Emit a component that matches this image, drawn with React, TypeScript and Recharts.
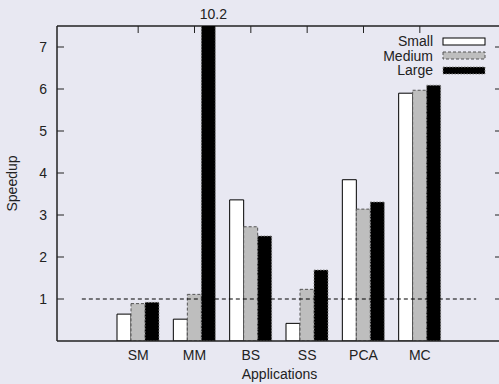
import * as Recharts from 'recharts'
import { BarChart, Bar, XAxis, YAxis, ReferenceLine, LabelList } from 'recharts'

const apps = ['SM', 'MM', 'BS', 'SS', 'PCA', 'MC']
const small = [0.64, 0.52, 3.36, 0.42, 3.84, 5.9]
const medium = [0.89, 1.11, 2.72, 1.23, 3.14, 5.97]
const large = [0.92, 10.2, 2.5, 1.69, 3.31, 6.09]
const yTicks = [1, 2, 3, 4, 5, 6, 7]
const yMax = 7.5
const baseline = 1

const data = apps.map((app, i) => ({ app, small: small[i], medium: medium[i], large: large[i] }))

const series = [
  { key: 'small', name: 'Small', fill: '#ffffff', stroke: '#000', dash: undefined },
  { key: 'medium', name: 'Medium', fill: '#bebebe', stroke: '#555', dash: '3 2' },
  { key: 'large', name: 'Large', fill: '#000000', stroke: '#888', dash: '1.5 1.5' },
]

const ink = '#222'
const font = 'Liberation Sans, Arial, sans-serif'
const xPad = { left: 53, right: 54 }

// gnuplot-style ticks: short marks pointing into the plot
function LeftTick({ x, y, payload }: any) {
  return (
    <g>
      <line x1={x} x2={x + 7} y1={y} y2={y} stroke={ink} />
      <text x={x - 10} y={y} dy={5} textAnchor="end" fontSize={14} fill={ink} fontFamily={font}>
        {payload.value}
      </text>
    </g>
  )
}

function RightTick({ x, y }: any) {
  return <line x1={x - 7} x2={x} y1={y} y2={y} stroke={ink} />
}

// top border of the frame with mirrored category ticks
function TopFrame() {
  const usePlotArea = (Recharts as any).usePlotArea
  const area = usePlotArea ? usePlotArea() : null
  if (!area) return null
  const band = (area.width - xPad.left - xPad.right) / apps.length
  return (
    <g>
      <line x1={area.x} x2={area.x + area.width} y1={area.y} y2={area.y} stroke={ink} strokeWidth={1.5} />
      {apps.map((a, i) => {
        const cx = area.x + xPad.left + band * (i + 0.5)
        return <line key={a} x1={cx} x2={cx} y1={area.y} y2={area.y + 7} stroke={ink} />
      })}
    </g>
  )
}

// dashed y=1 line runs one category step past the first and last app
function BaselineShape(p: any) {
  const step = (p.x2 - p.x1) / (apps.length - 1)
  return <line x1={p.x1 - step} x2={p.x2 + step} y1={p.y1} y2={p.y2} stroke="#000" strokeWidth={1.2} strokeDasharray="4 3" />
}

// value printed above the frame when a bar is cut off
function OverflowLabel(p: any) {
  const v = Number(p.value)
  if (!(v > yMax)) return null
  const box = p.viewBox ?? p
  const bottom = box.y + box.height
  const top = bottom - (box.height * yMax) / v
  return (
    <text x={box.x + box.width / 2 + 5} y={top - 7} textAnchor="middle" fontSize={14} fill={ink} fontFamily={font}>
      {v}
    </text>
  )
}

function KeyBox() {
  return (
    <div style={{ position: 'absolute', left: 340, top: 34, width: 146, fontFamily: font, fontSize: 14, color: ink }}>
      {series.map((s) => (
        <div key={s.key} style={{ display: 'flex', justifyContent: 'flex-end', alignItems: 'center', height: 14.5 }}>
          <span style={{ lineHeight: '14px' }}>{s.name}</span>
          <svg width={44} height={9} style={{ marginLeft: 9 }}>
            <rect x={1} y={1} width={42} height={7} fill={s.fill} stroke={s.stroke} strokeDasharray={s.dash} />
          </svg>
        </div>
      ))}
    </div>
  )
}

export default function App() {
  return (
    <div style={{ position: 'absolute', left: 0, top: 0, width: 499, height: 384, overflow: 'hidden', background: '#e8e8f2' }}>
      <BarChart
        width={504}
        height={384}
        data={data}
        margin={{ top: 26, right: 1, bottom: 0, left: 0 }}
        barCategoryGap={7}
        barGap={0}
      >
        <XAxis
          dataKey="app"
          padding={xPad}
          height={43}
          tickLine={false}
          tickSize={0}
          tickMargin={9}
          axisLine={{ stroke: ink, strokeWidth: 1.5 }}
          tick={{ fontSize: 14, fill: ink, fontFamily: font }}
          label={{ value: 'Applications', position: 'insideBottom', offset: 5, fontSize: 14, fill: ink, fontFamily: font }}
        />
        <YAxis
          type="number"
          domain={[0, yMax]}
          ticks={yTicks}
          allowDataOverflow
          width={57}
          tickSize={0}
          tickMargin={0}
          tickLine={false}
          axisLine={{ stroke: ink, strokeWidth: 1.5 }}
          tick={<LeftTick />}
          label={{
            value: 'Speedup',
            angle: -90,
            position: 'insideLeft',
            offset: 12,
            fontSize: 14,
            fill: ink,
            fontFamily: font,
            style: { textAnchor: 'middle' },
          }}
        />
        <YAxis
          yAxisId="r"
          orientation="right"
          type="number"
          domain={[0, yMax]}
          allowDataOverflow
          ticks={yTicks}
          width={1}
          tickSize={0}
          tickMargin={0}
          tickLine={false}
          axisLine={{ stroke: ink, strokeWidth: 1.5 }}
          tick={<RightTick />}
        />
        {series.map((s) => (
          <Bar
            key={s.key}
            dataKey={s.key}
            name={s.name}
            fill={s.fill}
            stroke={s.stroke}
            strokeWidth={1}
            strokeDasharray={s.dash}
            isAnimationActive={false}
          >
            {s.key === 'large' && <LabelList dataKey="large" content={<OverflowLabel />} />}
          </Bar>
        ))}
        <ReferenceLine
          segment={[
            { x: apps[0], y: baseline },
            { x: apps[apps.length - 1], y: baseline },
          ]}
          shape={<BaselineShape />}
        />
        <TopFrame />
      </BarChart>
      <KeyBox />
    </div>
  )
}
